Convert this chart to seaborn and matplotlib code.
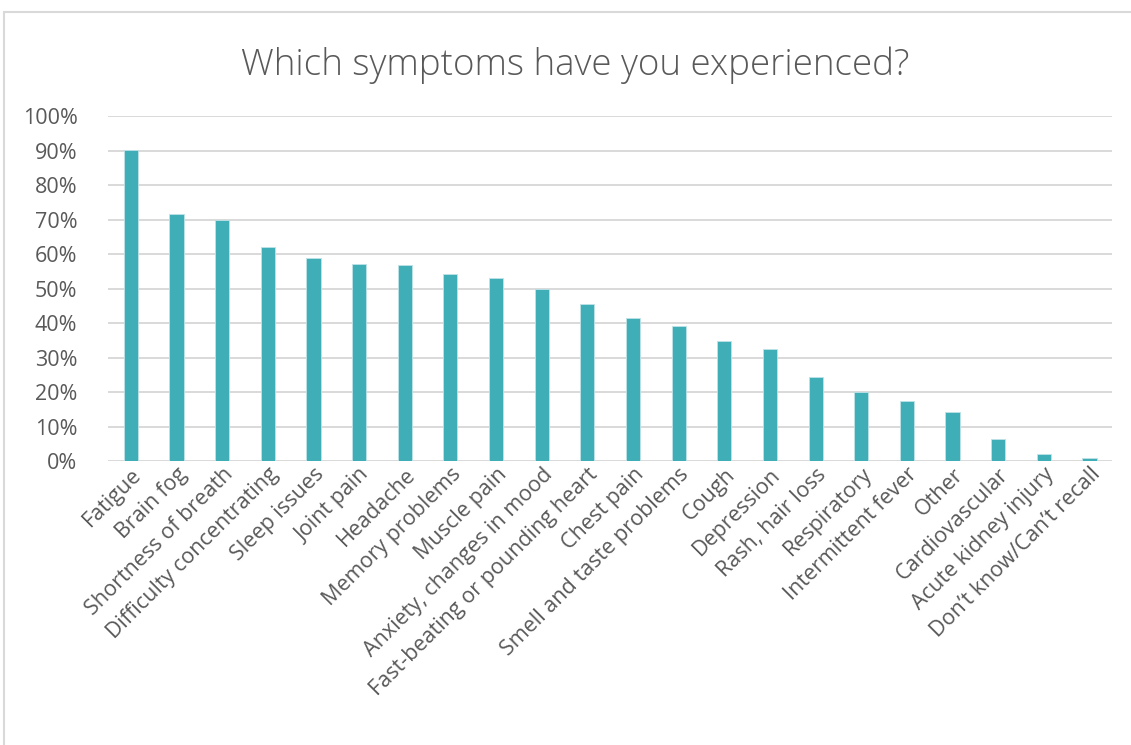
import matplotlib.pyplot as plt
import pandas as pd
import seaborn as sns
from matplotlib.patches import Rectangle
from matplotlib.ticker import FuncFormatter, MultipleLocator

symptoms = [
    "Fatigue", "Brain fog", "Shortness of breath", "Difficulty concentrating",
    "Sleep issues", "Joint pain", "Headache", "Memory problems", "Muscle pain",
    "Anxiety, changes in mood", "Fast-beating or pounding heart", "Chest pain",
    "Smell and taste problems", "Cough", "Depression", "Rash, hair loss",
    "Respiratory", "Intermittent fever", "Other", "Cardiovascular",
    "Acute kidney injury", "Don\u2019t know/Can\u2019t recall",
]
share = [
    90.3, 71.7, 69.9, 62.1, 58.8, 57.2, 56.9, 54.2, 53.0, 50.0, 45.5,
    41.4, 39.1, 34.7, 32.4, 24.3, 20.0, 17.5, 14.3, 6.3, 2.2, 0.8,
]


def main():
    df = pd.DataFrame({"symptom": symptoms, "share": share})

    sns.set_theme(style="white")
    plt.rcParams["font.family"] = ["Open Sans", "DejaVu Sans"]
    grey = "#595959"

    fig = plt.figure(figsize=(11.31, 7.45), dpi=100)
    ax = fig.add_axes([0.0955, 0.381, 0.888, 0.463])

    sns.barplot(data=df, x="symptom", y="share", color="#40AEB7", width=0.31,
                saturation=1, edgecolor="#BFE3E6", linewidth=0.6, ax=ax, zorder=3)

    ax.set_ylim(0, 100)
    ax.set_xlim(-0.5, len(symptoms) - 0.5)
    ax.yaxis.set_major_locator(MultipleLocator(10))
    ax.yaxis.set_major_formatter(FuncFormatter(lambda v, _: f"{v:.0f}%"))
    ax.grid(axis="y", color="#D9D9D9", linewidth=1.4, zorder=0)
    ax.grid(axis="x", visible=False)
    for s in ax.spines.values():
        s.set_visible(False)
    ax.tick_params(axis="y", length=0, pad=22, labelsize=15.5, labelcolor=grey)
    ax.tick_params(axis="x", length=0, pad=2, labelsize=15.5, labelcolor=grey)
    ax.set_xticks(range(len(symptoms)))
    ax.set_xticklabels(symptoms, rotation=45, ha="right", rotation_mode="anchor")
    ax.set_xlabel("")
    ax.set_ylabel("")

    fig.text(0.5085, 0.912, "Which symptoms have you experienced?", ha="center",
             va="center", fontsize=26.5, color=grey, fontweight="light")

    fig.patches.append(Rectangle((4 / 1131, -0.1), 1.2, 1 - 12 / 745 + 0.1,
                                 transform=fig.transFigure, fill=False,
                                 edgecolor="#D9D9D9", linewidth=1.5))

    fig.savefig("out.png", dpi=100)


if __name__ == "__main__":
    main()
